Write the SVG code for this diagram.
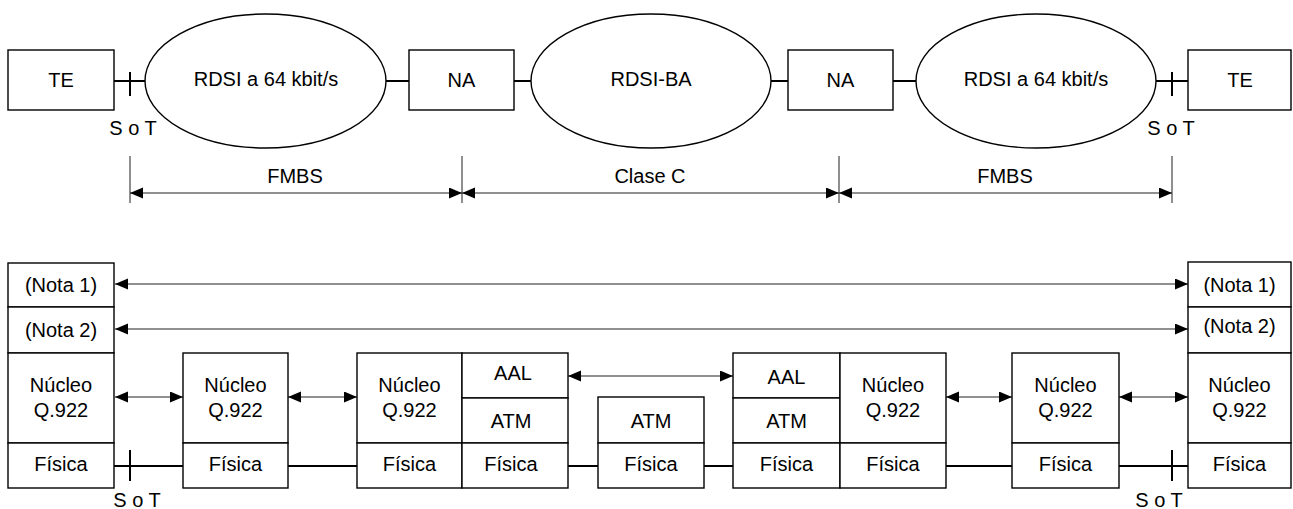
<svg xmlns="http://www.w3.org/2000/svg" width="1293" height="509" viewBox="0 0 1293 509">
  <style>
    .box { fill: #fff; stroke: #000; stroke-width: 1.4; }
    .net { fill: #fff; stroke: #000; stroke-width: 1.4; }
    .link { stroke: #000; stroke-width: 2; fill: none; }
    .tick { stroke: #000; stroke-width: 2; }
    .dim { stroke: #333; stroke-width: 1.1; fill: none; }
    .peer { stroke: #222; stroke-width: 1.2; fill: none; marker-start: url(#head); marker-end: url(#head); }
    text { font-family: "Liberation Sans", Arial, sans-serif; font-size: 20px; text-anchor: middle; fill: #000; }
  </style>
  <defs>
    <marker id="head" markerUnits="userSpaceOnUse" markerWidth="14" markerHeight="12" refX="13" refY="5.5" orient="auto-start-reverse">
      <path d="M0,0 L13,5.5 L0,11 z" fill="#000"/>
    </marker>
  </defs>

  <!-- Network configuration -->
  <g id="connectors-top">
    <line class="link" x1="114" y1="81" x2="145" y2="81"/>
    <line class="tick" x1="130" y1="72" x2="130" y2="96"/>
    <line class="link" x1="386" y1="81" x2="409" y2="81"/>
    <line class="link" x1="514" y1="81" x2="531" y2="81"/>
    <line class="link" x1="771" y1="81" x2="788" y2="81"/>
    <line class="link" x1="893" y1="81" x2="916" y2="81"/>
    <line class="link" x1="1156" y1="81" x2="1188" y2="81"/>
    <line class="tick" x1="1172" y1="72" x2="1172" y2="96"/>
  </g>

  <g id="te-left">
    <rect class="box" x="8" y="50" width="106" height="60"/>
    <text x="61" y="87">TE</text>
  </g>
  <g id="rdsi-left">
    <ellipse class="net" cx="265.5" cy="81" rx="120.5" ry="67"/>
    <text x="266" y="86">RDSI a 64 kbit/s</text>
  </g>
  <g id="na-left">
    <rect class="box" x="409" y="50" width="105" height="60"/>
    <text x="461.5" y="87">NA</text>
  </g>
  <g id="rdsi-ba">
    <ellipse class="net" cx="651" cy="81" rx="120" ry="67"/>
    <text x="651" y="86">RDSI-BA</text>
  </g>
  <g id="na-right">
    <rect class="box" x="788" y="50" width="105" height="60"/>
    <text x="840.5" y="87">NA</text>
  </g>
  <g id="rdsi-right">
    <ellipse class="net" cx="1036" cy="81" rx="120" ry="67"/>
    <text x="1036" y="86">RDSI a 64 kbit/s</text>
  </g>
  <g id="te-right">
    <rect class="box" x="1188" y="50" width="103" height="60"/>
    <text x="1240" y="87">TE</text>
  </g>

  <g id="ref-points-top">
    <text x="133" y="135">S o T</text>
    <text x="1171" y="135">S o T</text>
  </g>

  <!-- Dimension lines -->
  <g id="dimensions">
    <line class="dim" x1="130" y1="156" x2="130" y2="203"/>
    <line class="dim" x1="462" y1="156" x2="462" y2="203"/>
    <line class="dim" x1="839" y1="156" x2="839" y2="203"/>
    <line class="dim" x1="1172" y1="156" x2="1172" y2="203"/>
    <line class="peer" x1="130" y1="193" x2="462" y2="193"/>
    <line class="peer" x1="462" y1="193" x2="839" y2="193"/>
    <line class="peer" x1="839" y1="193" x2="1172" y2="193"/>
    <text x="295" y="183">FMBS</text>
    <text x="650" y="183">Clase C</text>
    <text x="1005" y="183">FMBS</text>
  </g>

  <!-- Protocol stacks -->
  <g id="connectors-bottom">
    <line class="peer" x1="115" y1="284" x2="1188" y2="284"/>
    <line class="peer" x1="115" y1="329" x2="1188" y2="329"/>
    <line class="peer" x1="115" y1="397" x2="183" y2="397"/>
    <line class="peer" x1="288" y1="397" x2="357" y2="397"/>
    <line class="peer" x1="568" y1="376" x2="733" y2="376"/>
    <line class="peer" x1="946" y1="397" x2="1012" y2="397"/>
    <line class="peer" x1="1119" y1="397" x2="1188" y2="397"/>
    <line class="link" x1="114" y1="466" x2="183" y2="466"/>
    <line class="tick" x1="130" y1="450" x2="130" y2="481"/>
    <line class="link" x1="288" y1="466" x2="357" y2="466"/>
    <line class="link" x1="568" y1="466" x2="598" y2="466"/>
    <line class="link" x1="704" y1="466" x2="733" y2="466"/>
    <line class="link" x1="946" y1="466" x2="1012" y2="466"/>
    <line class="link" x1="1119" y1="466" x2="1188" y2="466"/>
    <line class="tick" x1="1172" y1="450" x2="1172" y2="481"/>
  </g>

  <g id="stack-te-left">
    <rect class="box" x="8" y="263" width="106" height="44"/>
    <rect class="box" x="8" y="307" width="106" height="46"/>
    <rect class="box" x="8" y="353" width="106" height="90"/>
    <rect class="box" x="8" y="443" width="106" height="45"/>
    <text x="61" y="292">(Nota 1)</text>
    <text x="61" y="337">(Nota 2)</text>
    <text x="61" y="392">Núcleo</text>
    <text x="61" y="417">Q.922</text>
    <text x="61" y="471">Física</text>
  </g>

  <g id="stack-rdsi-left">
    <rect class="box" x="183" y="353" width="105" height="90"/>
    <rect class="box" x="183" y="443" width="105" height="45"/>
    <text x="235.5" y="392">Núcleo</text>
    <text x="235.5" y="417">Q.922</text>
    <text x="235.5" y="471">Física</text>
  </g>

  <g id="stack-na-left">
    <rect class="box" x="357" y="353" width="105" height="90"/>
    <rect class="box" x="357" y="443" width="105" height="45"/>
    <rect class="box" x="462" y="353" width="106" height="45"/>
    <rect class="box" x="462" y="398" width="106" height="45"/>
    <rect class="box" x="462" y="443" width="106" height="45"/>
    <text x="409.5" y="392">Núcleo</text>
    <text x="409.5" y="417">Q.922</text>
    <text x="409.5" y="471">Física</text>
    <text x="513" y="380">AAL</text>
    <text x="511" y="428">ATM</text>
    <text x="511" y="471">Física</text>
  </g>

  <g id="stack-atm">
    <rect class="box" x="598" y="397" width="106" height="46"/>
    <rect class="box" x="598" y="443" width="106" height="45"/>
    <text x="651" y="428">ATM</text>
    <text x="651" y="471">Física</text>
  </g>

  <g id="stack-na-right">
    <rect class="box" x="733" y="353" width="107" height="45"/>
    <rect class="box" x="733" y="398" width="107" height="45"/>
    <rect class="box" x="733" y="443" width="107" height="45"/>
    <rect class="box" x="840" y="353" width="106" height="90"/>
    <rect class="box" x="840" y="443" width="106" height="45"/>
    <text x="786.5" y="384">AAL</text>
    <text x="786.5" y="428">ATM</text>
    <text x="786.5" y="471">Física</text>
    <text x="893" y="392">Núcleo</text>
    <text x="893" y="417">Q.922</text>
    <text x="893" y="471">Física</text>
  </g>

  <g id="stack-rdsi-right">
    <rect class="box" x="1012" y="353" width="107" height="90"/>
    <rect class="box" x="1012" y="443" width="107" height="45"/>
    <text x="1065.5" y="392">Núcleo</text>
    <text x="1065.5" y="417">Q.922</text>
    <text x="1065.5" y="471">Física</text>
  </g>

  <g id="stack-te-right">
    <rect class="box" x="1188" y="262" width="103" height="45"/>
    <rect class="box" x="1188" y="307" width="103" height="46"/>
    <rect class="box" x="1188" y="353" width="103" height="90"/>
    <rect class="box" x="1188" y="443" width="103" height="45"/>
    <text x="1239.5" y="292">(Nota 1)</text>
    <text x="1239.5" y="333">(Nota 2)</text>
    <text x="1239.5" y="392">Núcleo</text>
    <text x="1239.5" y="417">Q.922</text>
    <text x="1239.5" y="471">Física</text>
  </g>

  <g id="ref-points-bottom">
    <text x="137" y="507">S o T</text>
    <text x="1159" y="507">S o T</text>
  </g>
</svg>
